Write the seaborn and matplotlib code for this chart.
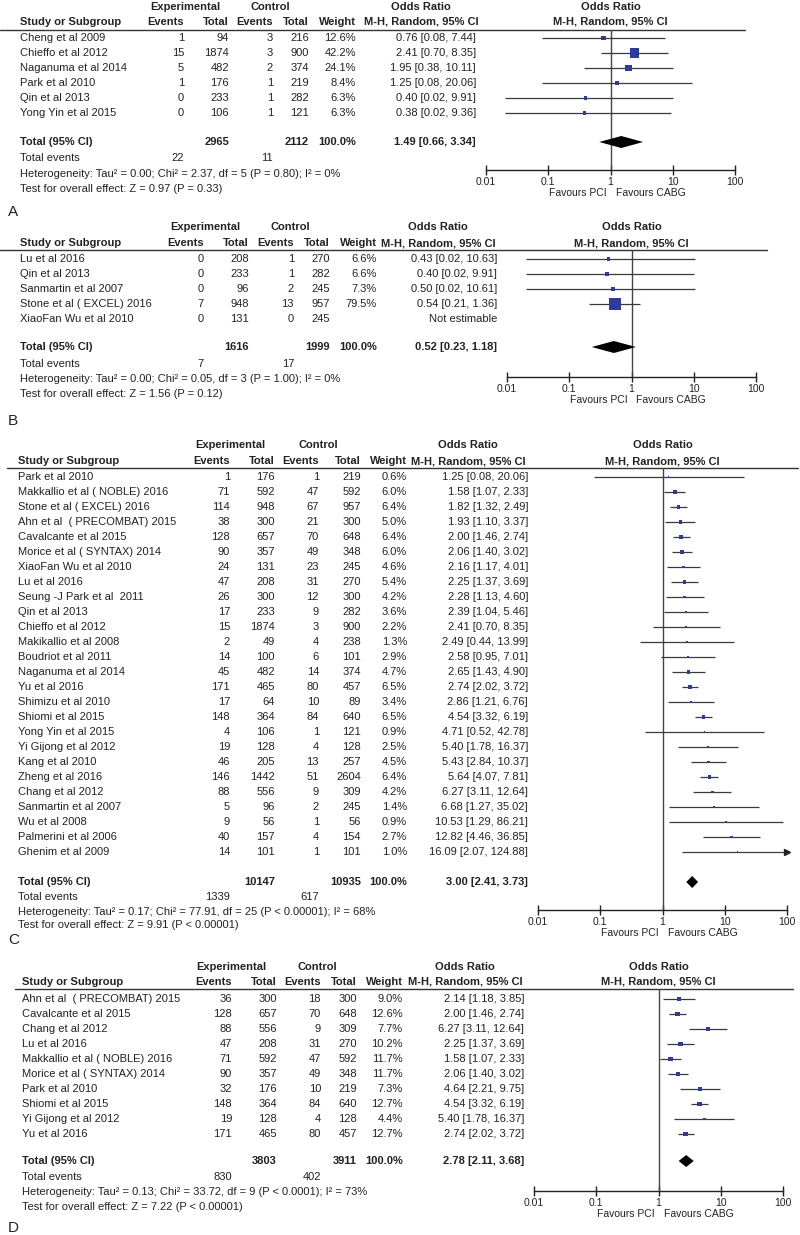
import numpy as np
import matplotlib
matplotlib.use("Agg")
import matplotlib.pyplot as plt
from matplotlib.ticker import NullLocator
import seaborn as sns

# ── Panel A ───────────────────────────────────────────────────────────────────
a_study = ["Cheng et al 2009", "Chieffo et al 2012", "Naganuma et al 2014",
           "Park et al 2010", "Qin et al 2013", "Yong Yin et al 2015"]
a_ev1 = [1, 15, 5, 1, 0, 0]
a_n1 = [94, 1874, 482, 176, 233, 106]
a_ev2 = [3, 3, 2, 1, 1, 1]
a_n2 = [216, 900, 374, 219, 282, 121]
a_wt = [12.6, 42.2, 24.1, 8.4, 6.3, 6.3]
a_or = [0.76, 2.41, 1.95, 1.25, 0.40, 0.38]
a_lo = [0.08, 0.70, 0.38, 0.08, 0.02, 0.02]
a_hi = [7.44, 8.35, 10.11, 20.06, 9.91, 9.36]
a_tot = [2965, 2112]
a_tot_ev = [22, 11]
a_pool = [1.49, 0.66, 3.34]
a_het = "Heterogeneity: Tau\u00b2 = 0.00; Chi\u00b2 = 2.37, df = 5 (P = 0.80); I\u00b2 = 0%"
a_test = "Test for overall effect: Z = 0.97 (P = 0.33)"

# ── Panel B ───────────────────────────────────────────────────────────────────
b_study = ["Lu et al 2016", "Qin et al 2013", "Sanmartin et al 2007",
           "Stone et al ( EXCEL) 2016", "XiaoFan Wu et al 2010"]
b_ev1 = [0, 0, 0, 7, 0]
b_n1 = [208, 233, 96, 948, 131]
b_ev2 = [1, 1, 2, 13, 0]
b_n2 = [270, 282, 245, 957, 245]
b_wt = [6.6, 6.6, 7.3, 79.5, np.nan]
b_or = [0.43, 0.40, 0.50, 0.54, np.nan]
b_lo = [0.02, 0.02, 0.02, 0.21, np.nan]
b_hi = [10.63, 9.91, 10.61, 1.36, np.nan]
b_tot = [1616, 1999]
b_tot_ev = [7, 17]
b_pool = [0.52, 0.23, 1.18]
b_het = "Heterogeneity: Tau\u00b2 = 0.00; Chi\u00b2 = 0.05, df = 3 (P = 1.00); I\u00b2 = 0%"
b_test = "Test for overall effect: Z = 1.56 (P = 0.12)"

# ── Panel C ───────────────────────────────────────────────────────────────────
c_study = ["Park et al 2010", "Makkallio et al ( NOBLE) 2016", "Stone et al ( EXCEL) 2016",
           "Ahn et al  ( PRECOMBAT) 2015", "Cavalcante et al 2015", "Morice et al ( SYNTAX) 2014",
           "XiaoFan Wu et al 2010", "Lu et al 2016", "Seung -J Park et al  2011",
           "Qin et al 2013", "Chieffo et al 2012", "Makikallio et al 2008",
           "Boudriot et al 2011", "Naganuma et al 2014", "Yu et al 2016",
           "Shimizu et al 2010", "Shiomi et al 2015", "Yong Yin et al 2015",
           "Yi Gijong et al 2012", "Kang et al 2010", "Zheng et al 2016",
           "Chang et al 2012", "Sanmartin et al 2007", "Wu et al 2008",
           "Palmerini et al 2006", "Ghenim et al 2009"]
c_ev1 = [1, 71, 114, 38, 128, 90, 24, 47, 26, 17, 15, 2, 14, 45, 171, 17, 148, 4, 19, 46,
         146, 88, 5, 9, 40, 14]
c_n1 = [176, 592, 948, 300, 657, 357, 131, 208, 300, 233, 1874, 49, 100, 482, 465, 64,
        364, 106, 128, 205, 1442, 556, 96, 56, 157, 101]
c_ev2 = [1, 47, 67, 21, 70, 49, 23, 31, 12, 9, 3, 4, 6, 14, 80, 10, 84, 1, 4, 13, 51, 9,
         2, 1, 4, 1]
c_n2 = [219, 592, 957, 300, 648, 348, 245, 270, 300, 282, 900, 238, 101, 374, 457, 89,
        640, 121, 128, 257, 2604, 309, 245, 56, 154, 101]
c_wt = [0.6, 6.0, 6.4, 5.0, 6.4, 6.0, 4.6, 5.4, 4.2, 3.6, 2.2, 1.3, 2.9, 4.7, 6.5, 3.4,
        6.5, 0.9, 2.5, 4.5, 6.4, 4.2, 1.4, 0.9, 2.7, 1.0]
c_or = [1.25, 1.58, 1.82, 1.93, 2.00, 2.06, 2.16, 2.25, 2.28, 2.39, 2.41, 2.49, 2.58, 2.65,
        2.74, 2.86, 4.54, 4.71, 5.40, 5.43, 5.64, 6.27, 6.68, 10.53, 12.82, 16.09]
c_lo = [0.08, 1.07, 1.32, 1.10, 1.46, 1.40, 1.17, 1.37, 1.13, 1.04, 0.70, 0.44, 0.95, 1.43,
        2.02, 1.21, 3.32, 0.52, 1.78, 2.84, 4.07, 3.11, 1.27, 1.29, 4.46, 2.07]
c_hi = [20.06, 2.33, 2.49, 3.37, 2.74, 3.02, 4.01, 3.69, 4.60, 5.46, 8.35, 13.99, 7.01, 4.90,
        3.72, 6.76, 6.19, 42.78, 16.37, 10.37, 7.81, 12.64, 35.02, 86.21, 36.85, 124.88]
c_tot = [10147, 10935]
c_tot_ev = [1339, 617]
c_pool = [3.00, 2.41, 3.73]
c_het = "Heterogeneity: Tau\u00b2 = 0.17; Chi\u00b2 = 77.91, df = 25 (P < 0.00001); I\u00b2 = 68%"
c_test = "Test for overall effect: Z = 9.91 (P < 0.00001)"

# ── Panel D ───────────────────────────────────────────────────────────────────
d_study = ["Ahn et al  ( PRECOMBAT) 2015", "Cavalcante et al 2015", "Chang et al 2012",
           "Lu et al 2016", "Makkallio et al ( NOBLE) 2016", "Morice et al ( SYNTAX) 2014",
           "Park et al 2010", "Shiomi et al 2015", "Yi Gijong et al 2012", "Yu et al 2016"]
d_ev1 = [36, 128, 88, 47, 71, 90, 32, 148, 19, 171]
d_n1 = [300, 657, 556, 208, 592, 357, 176, 364, 128, 465]
d_ev2 = [18, 70, 9, 31, 47, 49, 10, 84, 4, 80]
d_n2 = [300, 648, 309, 270, 592, 348, 219, 640, 128, 457]
d_wt = [9.0, 12.6, 7.7, 10.2, 11.7, 11.7, 7.3, 12.7, 4.4, 12.7]
d_or = [2.14, 2.00, 6.27, 2.25, 1.58, 2.06, 4.64, 4.54, 5.40, 2.74]
d_lo = [1.18, 1.46, 3.11, 1.37, 1.07, 1.40, 2.21, 3.32, 1.78, 2.02]
d_hi = [3.85, 2.74, 12.64, 3.69, 2.33, 3.02, 9.75, 6.19, 16.37, 3.72]
d_tot = [3803, 3911]
d_tot_ev = [830, 402]
d_pool = [2.78, 2.11, 3.68]
d_het = "Heterogeneity: Tau\u00b2 = 0.13; Chi\u00b2 = 33.72, df = 9 (P < 0.0001); I\u00b2 = 73%"
d_test = "Test for overall effect: Z = 7.22 (P < 0.00001)"

INK = "#222222"
LINE = "#3a3a3a"
BLUE = "#2C3C9E"
FS = 8

sns.set_theme(style="white")
plt.rcParams["font.family"] = ["Liberation Sans", "DejaVu Sans"]

W, H = 800, 1235
fig = plt.figure(figsize=(W / 100, H / 100), dpi=100)
fig.patch.set_facecolor("white")
base = fig.add_axes([0, 0, 1, 1])
base.set_xlim(0, W)
base.set_ylim(H, 0)
base.axis("off")

# layout (pixels): header rows, rule, first row, totals, columns, forest span
panels = [
    dict(tag="A", y_tag=212, hdr1=7, hdr2=22, rule=(0, 745, 30), row0=38, tot=142, ev=158,
         het=174, test=189, sx=20, cols=(184, 229, 273, 309, 356, 476), exp_c=185, ctl_c=270,
         or_c=421, fx=(486, 735), axis_y=170,
         data=(a_study, a_ev1, a_n1, a_ev2, a_n2, a_wt, a_or, a_lo, a_hi,
               a_tot, a_tot_ev, a_pool, a_het, a_test)),
    dict(tag="B", y_tag=421, hdr1=227, hdr2=243, rule=(0, 767, 250), row0=259, tot=347, ev=364,
         het=379, test=394, sx=20, cols=(204, 249, 294, 330, 377, 497), exp_c=205, ctl_c=290,
         or_c=438, fx=(507, 756), axis_y=377,
         data=(b_study, b_ev1, b_n1, b_ev2, b_n2, b_wt, b_or, b_lo, b_hi,
               b_tot, b_tot_ev, b_pool, b_het, b_test)),
    dict(tag="C", y_tag=940, hdr1=445, hdr2=461, rule=(7, 798, 468), row0=477, tot=882, ev=897,
         het=912, test=925, sx=18, cols=(230, 275, 319, 361, 407, 528), exp_c=230, ctl_c=318,
         or_c=468, fx=(538, 787), axis_y=910,
         data=(c_study, c_ev1, c_n1, c_ev2, c_n2, c_wt, c_or, c_lo, c_hi,
               c_tot, c_tot_ev, c_pool, c_het, c_test)),
    dict(tag="D", y_tag=1228, hdr1=967, hdr2=982, rule=(15, 793, 989), row0=999, tot=1161,
         ev=1177, het=1192, test=1207, sx=22, cols=(232, 277, 321, 357, 403, 524), exp_c=231,
         ctl_c=317, or_c=465, fx=(534, 783), axis_y=1191,
         data=(d_study, d_ev1, d_n1, d_ev2, d_n2, d_wt, d_or, d_lo, d_hi,
               d_tot, d_tot_ev, d_pool, d_het, d_test)),
]


def txt(x, y, s, ha="left", bold=False, size=FS):
    base.text(x, y, s, ha=ha, va="center", fontsize=size, color=INK,
              fontweight="bold" if bold else "normal")


for p in panels:
    study, ev1, n1, ev2, n2, wt, orr, lo, hi, tot, tot_ev, pool, het, test = p["data"]
    c1, c2, c3, c4, c5, c6 = p["cols"]
    rows = p["row0"] + 15 * np.arange(len(study))

    # headers
    txt(p["exp_c"], p["hdr1"], "Experimental", ha="center", bold=True)
    txt(p["ctl_c"], p["hdr1"], "Control", ha="center", bold=True)
    txt(p["or_c"], p["hdr1"], "Odds Ratio", ha="center", bold=True)
    txt(sum(p["fx"]) / 2, p["hdr1"], "Odds Ratio", ha="center", bold=True)
    txt(p["sx"], p["hdr2"], "Study or Subgroup", bold=True)
    for x, s in zip((c1, c2, c3, c4, c5), ("Events", "Total", "Events", "Total", "Weight")):
        txt(x, p["hdr2"], s, ha="right", bold=True)
    txt(p["or_c"], p["hdr2"], "M-H, Random, 95% CI", ha="center", bold=True)
    txt(sum(p["fx"]) / 2, p["hdr2"], "M-H, Random, 95% CI", ha="center", bold=True)
    x0, x1, yr = p["rule"]
    base.plot([x0, x1], [yr, yr], color="#333333", lw=1.0)

    # study rows
    for i, y in enumerate(rows):
        txt(p["sx"], y, study[i])
        txt(c1, y, str(ev1[i]), ha="right")
        txt(c2, y, str(n1[i]), ha="right")
        txt(c3, y, str(ev2[i]), ha="right")
        txt(c4, y, str(n2[i]), ha="right")
        if np.isnan(wt[i]):
            txt(c6, y, "Not estimable", ha="right")
        else:
            txt(c5, y, f"{wt[i]:.1f}%", ha="right")
            txt(c6, y, f"{orr[i]:.2f} [{lo[i]:.2f}, {hi[i]:.2f}]", ha="right")

    # totals
    txt(p["sx"], p["tot"], "Total (95% CI)", bold=True)
    txt(c2, p["tot"], str(tot[0]), ha="right", bold=True)
    txt(c4, p["tot"], str(tot[1]), ha="right", bold=True)
    txt(c5, p["tot"], "100.0%", ha="right", bold=True)
    txt(c6, p["tot"], f"{pool[0]:.2f} [{pool[1]:.2f}, {pool[2]:.2f}]", ha="right", bold=True)
    txt(p["sx"], p["ev"], "Total events")
    txt(c1, p["ev"], str(tot_ev[0]), ha="right")
    txt(c3, p["ev"], str(tot_ev[1]), ha="right")
    txt(p["sx"], p["het"], het)
    txt(p["sx"], p["test"], test)
    base.text(8, p["y_tag"], p["tag"], ha="left", va="center", fontsize=11, color=INK)

    # forest plot
    fl, fr = p["fx"]
    ax = fig.add_axes([fl / W, 1 - p["axis_y"] / H, (fr - fl) / W, (p["axis_y"] - yr) / H])
    ax.set_facecolor("none")
    ax.set_xscale("log")
    ax.set_xlim(0.01, 100)
    ax.set_ylim(p["axis_y"], yr)
    ax.axvline(1, color="#444444", lw=1.0, zorder=1)
    ok = ~np.isnan(np.asarray(wt, dtype=float))
    lo_c = np.clip(np.asarray(lo)[ok], 0.01, 100)
    hi_c = np.clip(np.asarray(hi)[ok], 0.01, 100)
    ax.hlines(rows[ok], lo_c, hi_c, color=LINE, lw=0.9, zorder=2)
    over = np.asarray(hi)[ok] > 100
    if over.any():
        ax.plot(hi_c[over], rows[ok][over], ls="none", marker=">", ms=4.5,
                color=INK, clip_on=False, zorder=3)
    sns.scatterplot(x=np.asarray(orr)[ok], y=rows[ok], size=np.asarray(wt)[ok],
                    sizes=(0, 100), size_norm=(0, 100), marker="s", color=BLUE,
                    edgecolor="none", linewidth=0, legend=False, ax=ax, zorder=4,
                    clip_on=False)
    py, plo, phi = p["tot"], pool[1], pool[2]
    ax.fill([plo, pool[0], phi, pool[0]], [py, py - 6, py, py + 6], color="black",
            lw=0, zorder=4, clip_on=False)

    ax.set_xticks([0.01, 0.1, 1, 10, 100])
    ax.set_xticklabels(["0.01", "0.1", "1", "10", "100"])
    ax.xaxis.set_minor_locator(NullLocator())
    ax.set_yticks([])
    ax.tick_params(axis="x", bottom=True, direction="inout", length=7, width=1,
                   color=INK, labelsize=7.5, labelcolor=INK, pad=1.5)
    for side in ("top", "left", "right"):
        ax.spines[side].set_visible(False)
    ax.spines["bottom"].set_color(INK)
    ax.spines["bottom"].set_linewidth(1.0)
    ax.set_xlabel("")
    ax.set_ylabel("")

    x_one = fl + (fr - fl) / 2
    txt(x_one - 4, p["axis_y"] + 23, "Favours PCI", ha="right", size=7.5)
    txt(x_one + 5, p["axis_y"] + 23, "Favours CABG", ha="left", size=7.5)

fig.savefig("out.png", dpi=100, facecolor="white")
